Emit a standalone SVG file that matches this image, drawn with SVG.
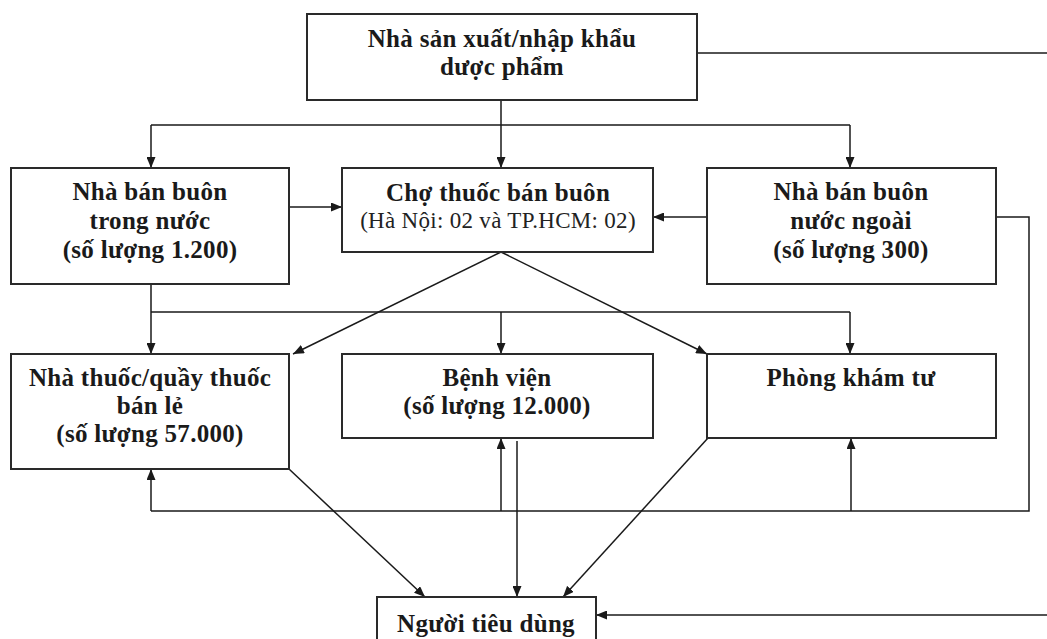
<svg xmlns="http://www.w3.org/2000/svg" width="1047" height="639" viewBox="0 0 1047 639">
<defs>
<marker id="ah" viewBox="0 0 11 9" refX="11" refY="4.5" markerWidth="11" markerHeight="9" markerUnits="userSpaceOnUse" orient="auto">
<path d="M0,0 L11,4.5 L0,9 Z" fill="#1a1a1a"/>
</marker>
<style>
.box{fill:#fff;stroke:#2a2a2a;stroke-width:2}
.t{font-family:"Liberation Serif","Times New Roman",serif;font-size:25px;font-weight:bold;fill:#1a1a1a;text-anchor:middle;letter-spacing:0.3px}
.r{font-family:"Liberation Serif","Times New Roman",serif;font-size:23px;font-weight:normal;fill:#222;text-anchor:middle;letter-spacing:0.3px}
.c{fill:none;stroke:#1a1a1a;stroke-width:1.5}
.a{fill:none;stroke:#1a1a1a;stroke-width:1.5;marker-end:url(#ah)}
</style>
</defs>
<rect width="1047" height="639" fill="#fff"/>
<g id="connectors">
<path class="c" d="M697,53 L1047,53"/>
<path class="c" d="M501,100 L501,125 M151,125 L850,125"/>
<path class="a" d="M151,125 L151,168"/>
<path class="a" d="M501,125 L501,168"/>
<path class="a" d="M850,125 L850,168"/>
<path class="a" d="M289,207 L342,207"/>
<path class="a" d="M707,217 L653,217"/>
<path class="c" d="M151,284 L151,312 M151,312 L850,312"/>
<path class="a" d="M151,312 L151,354"/>
<path class="a" d="M501,312 L501,354"/>
<path class="a" d="M850,312 L850,354"/>
<path class="a" d="M501,252 L293,354"/>
<path class="a" d="M501,252 L707,354"/>
<path class="c" d="M996,217 L1029,217 L1029,511 L151,511"/>
<path class="a" d="M151,511 L151,469"/>
<path class="a" d="M501,511 L501,438"/>
<path class="a" d="M851,511 L851,438"/>
<path class="a" d="M289,469 L425,597"/>
<path class="a" d="M517,441 L517,597"/>
<path class="a" d="M708,438 L563,597"/>
<path class="a" d="M1047,615 L596,615"/>
</g>
<g id="node-manufacturer">
<rect class="box" x="307" y="14" width="390" height="86"/>
<text class="t" x="502" y="47">Nhà sản xuất/nhập khẩu</text>
<text class="t" x="502" y="75">dược phẩm</text>
</g>
<g id="node-domestic-wholesaler">
<rect class="box" x="11" y="168" width="278" height="116"/>
<text class="t" x="150" y="200">Nhà bán buôn</text>
<text class="t" x="150" y="229">trong nước</text>
<text class="t" x="150" y="258">(số lượng 1.200)</text>
</g>
<g id="node-wholesale-market">
<rect class="box" x="342" y="168" width="311" height="84"/>
<text class="t" x="498" y="201">Chợ thuốc bán buôn</text>
<text class="r" x="498" y="228">(Hà Nội: 02 và TP.HCM: 02)</text>
</g>
<g id="node-foreign-wholesaler">
<rect class="box" x="707" y="168" width="289" height="116"/>
<text class="t" x="851" y="200">Nhà bán buôn</text>
<text class="t" x="851" y="229">nước ngoài</text>
<text class="t" x="851" y="258">(số lượng 300)</text>
</g>
<g id="node-pharmacy">
<rect class="box" x="11" y="354" width="278" height="115"/>
<text class="t" x="150" y="386">Nhà thuốc/quầy thuốc</text>
<text class="t" x="150" y="414">bán lẻ</text>
<text class="t" x="150" y="442">(số lượng 57.000)</text>
</g>
<g id="node-hospital">
<rect class="box" x="342" y="354" width="311" height="84"/>
<text class="t" x="497" y="386">Bệnh viện</text>
<text class="t" x="497" y="414">(số lượng 12.000)</text>
</g>
<g id="node-clinic">
<rect class="box" x="707" y="354" width="289" height="84"/>
<text class="t" x="851" y="386">Phòng khám tư</text>
</g>
<g id="node-consumer">
<rect class="box" x="377" y="597" width="219" height="50"/>
<text class="t" x="486" y="632">Người tiêu dùng</text>
</g>
</svg>
